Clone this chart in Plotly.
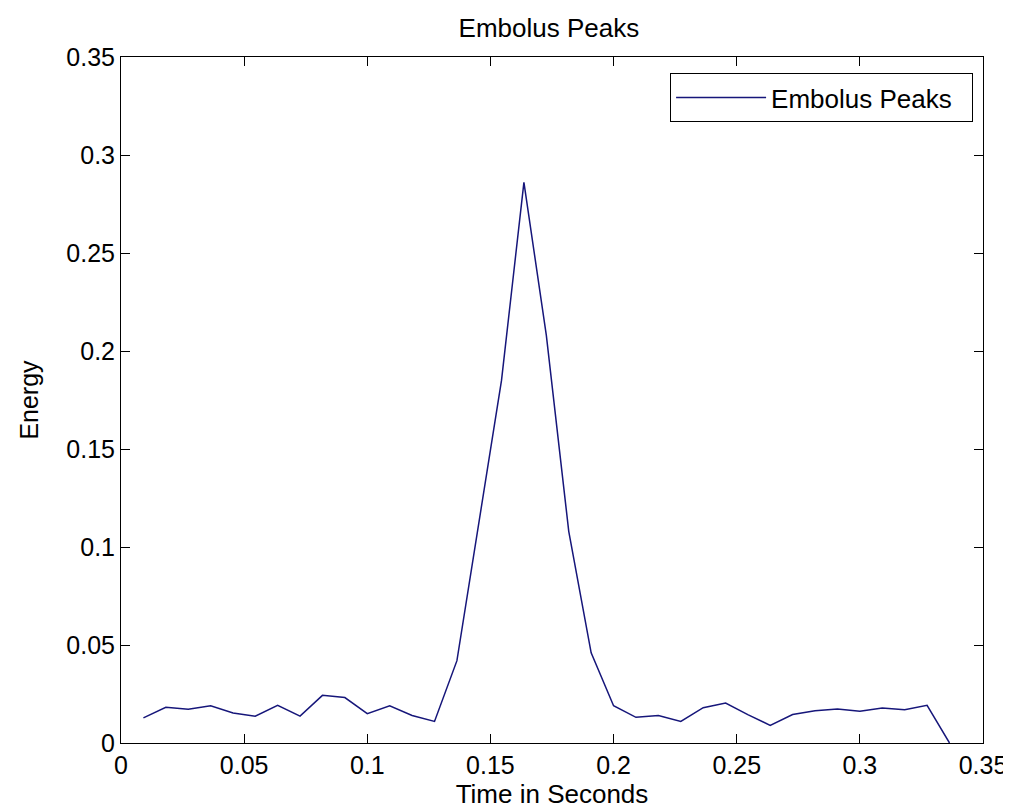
import plotly.graph_objects as go

# Data
time_s = [0.0091, 0.0182, 0.0273, 0.0364, 0.0455, 0.0545, 0.0636, 0.0727, 0.0818,
          0.0909, 0.1000, 0.1091, 0.1182, 0.1273, 0.1364, 0.1455, 0.1545, 0.1636,
          0.1727, 0.1818, 0.1909, 0.2000, 0.2091, 0.2182, 0.2273, 0.2364, 0.2455,
          0.2545, 0.2636, 0.2727, 0.2818, 0.2909, 0.3000, 0.3091, 0.3182, 0.3273,
          0.3364]
energy = [0.0128, 0.0182, 0.0172, 0.0190, 0.0153, 0.0137, 0.0192, 0.0137, 0.0243,
          0.0232, 0.0150, 0.0190, 0.0140, 0.0110, 0.0420, 0.1150, 0.1850, 0.2860,
          0.2080, 0.1080, 0.0460, 0.0190, 0.0131, 0.0140, 0.0110, 0.0180, 0.0204,
          0.0145, 0.0090, 0.0145, 0.0165, 0.0173, 0.0162, 0.0179, 0.0170, 0.0192,
          0.0000]

tick_vals = [0, 0.05, 0.1, 0.15, 0.2, 0.25, 0.3, 0.35]
tick_text = ["0", "0.05", "0.1", "0.15", "0.2", "0.25", "0.3", "0.35"]

FONT = "Liberation Sans, Arial, Helvetica, sans-serif"

fig = go.Figure()
fig.add_trace(go.Scatter(x=time_s, y=energy, mode="lines",
                         name="Embolus Peaks&nbsp;&nbsp;",
                         line=dict(color="#16167a", width=1.5)))

axis_common = dict(range=[0, 0.35], tickvals=tick_vals, ticktext=tick_text,
                   showgrid=False, zeroline=False, showline=True, linecolor="black",
                   linewidth=1, mirror="ticks", ticks="inside", ticklen=9,
                   tickcolor="black", tickfont=dict(family=FONT, size=25, color="black"))

fig.update_layout(
    width=1011, height=807,
    margin=dict(l=113, r=29, t=49, b=72),
    paper_bgcolor="white", plot_bgcolor="white",
    title=dict(text="Embolus Peaks", x=0.535, xanchor="center", y=0.975, yanchor="middle",
               font=dict(family=FONT, size=26, color="black")),
    xaxis=dict(**axis_common, title=dict(text="Time in Seconds", standoff=0,
                                         font=dict(family=FONT, size=26, color="black"))),
    yaxis=dict(**axis_common, title=dict(text="Energy", standoff=20,
                                         font=dict(family=FONT, size=25, color="black"))),
    showlegend=True,
    legend=dict(x=0.9885, y=0.9767, xanchor="right", yanchor="top",
                bgcolor="white", bordercolor="black", borderwidth=1,
                font=dict(family=FONT, size=26, color="black"), itemwidth=90),
)

fig.write_html("out.html")
